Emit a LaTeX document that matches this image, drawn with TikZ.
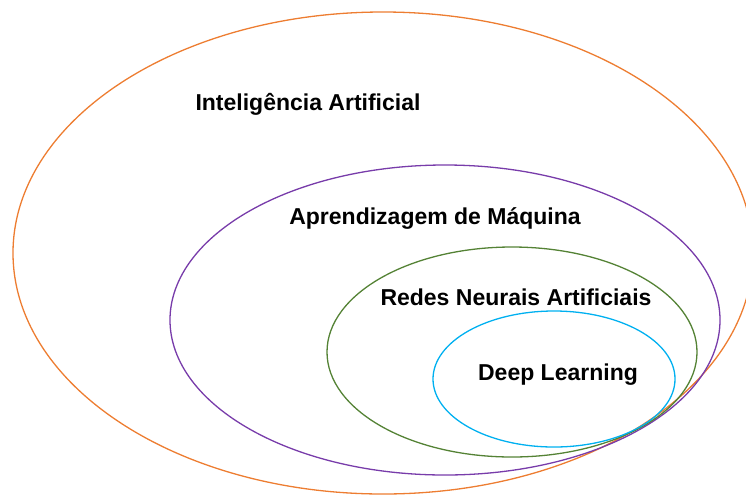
\documentclass[tikz,border=0pt]{standalone}
\usepackage{fontspec}
\setmainfont{Liberation Sans}
\definecolor{aiorange}{RGB}{237,125,49}
\definecolor{mlpurple}{RGB}{120,60,170}
\definecolor{nngreen}{RGB}{84,130,53}
\definecolor{dlblue}{RGB}{0,176,240}
\begin{document}
\begin{tikzpicture}[x=1pt,y=-1pt,
  ring/.style={line width=1.3pt},
  lbl/.style={font=\bfseries\fontsize{23}{27}\selectfont, inner sep=0pt}]
\useasboundingbox (0,0) rectangle (746,496);
% nested fields, outermost first
\draw[ring, aiorange] (383,253) ellipse [x radius=370, y radius=241];
\draw[ring, mlpurple] (445,320) ellipse [x radius=275, y radius=155];
\draw[ring, nngreen] (512,352) ellipse [x radius=185, y radius=105];
\draw[ring, dlblue] (554,379) ellipse [x radius=121, y radius=68];
% field names
\node[lbl] (ai) at (308,104) {Inteligência Artificial};
\node[lbl] (ml) at (435,218) {Aprendizagem de Máquina};
\node[lbl] (nn) at (516,297) {Redes Neurais Artificiais};
\node[lbl] (dl) at (558,375) {Deep Learning};
\end{tikzpicture}
\end{document}
